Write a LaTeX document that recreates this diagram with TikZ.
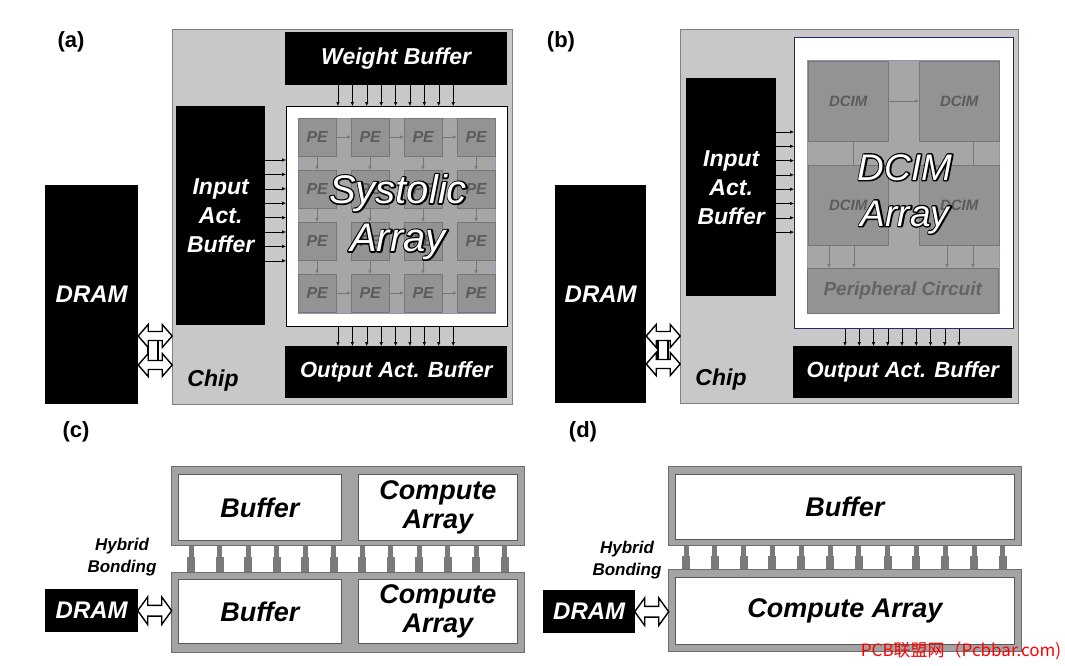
\documentclass[tikz,border=0pt]{standalone}
\usepackage{fontspec}
\setmainfont{Liberation Sans}
\newfontfamily\cjkfont{Noto Sans CJK SC}
\usetikzlibrary{positioning,calc,arrows.meta}

\definecolor{chipgray}{HTML}{C8C8C8}
\definecolor{chipedge}{HTML}{808080}
\definecolor{gridgray}{HTML}{A6A6A6}
\definecolor{pegray}{HTML}{939393}
\definecolor{pedge}{HTML}{777777}
\definecolor{petext}{HTML}{5C5C5C}
\definecolor{navy}{HTML}{1F2C66}
\definecolor{diegray}{HTML}{A3A3A3}
\definecolor{dieedge}{HTML}{6E6E6E}
\definecolor{pillarc}{HTML}{7A7A7A}

% outline pass for the big array titles
\newcommand{\strokeon}{\special{pdf:literal direct 1 Tr 2.8 w 1 j 0 0 0 RG}}

\tikzset{
  buf/.style={fill=black, text=white, inner sep=0pt, align=center, anchor=north west,
    font=\bfseries\itshape\fontsize{22}{29}\selectfont},
  chip/.style={draw=chipedge, fill=chipgray, line width=1pt, anchor=north west, inner sep=0pt},
  pe/.style={draw=pedge, fill=pegray, text=petext, anchor=north west, inner sep=0pt,
    font=\bfseries\itshape\fontsize{16}{16}\selectfont},
  sig/.style={-{Latex[length=4pt,width=3.5pt]}, line width=0.5pt},
  flow/.style={-{Latex[length=4pt,width=3.5pt]}, line width=0.7pt, draw=pedge},
  hollowlink/.pic={
    \draw[fill=white, line width=1.4pt, line join=miter]
      (-17,0) -- (-7,-11.5) -- (-7,-4.5) -- (7,-4.5) -- (7,-11.5) -- (17,0)
      -- (7,11.5) -- (7,4.5) -- (-7,4.5) -- (-7,11.5) -- cycle;
  },
  die/.style={draw=dieedge, fill=diegray, line width=1pt, anchor=north west, inner sep=0pt},
  slot/.style={draw=dieedge!80!black, fill=white, line width=0.8pt, anchor=north west, inner sep=0pt,
    align=center, font=\bfseries\itshape\fontsize{27}{29}\selectfont},
  big/.style={text=white, align=center, font=\itshape\fontsize{37}{46}\selectfont},
  bigline/.style={big, text=black},
  tag/.style={font=\bfseries\fontsize{22}{22}\selectfont},
  note/.style={font=\bfseries\itshape\fontsize{23}{23}\selectfont}
}

\begin{document}
\begin{tikzpicture}[x=1pt, y=-1pt]
  \useasboundingbox (0,0) rectangle (1065,665);

  %%%%%%%%%% (a) systolic array chip
  \node[tag] (la) at (71,42) {(a)};
  \node[chip, minimum width=340pt, minimum height=375pt] (chipA) at (172,29) {};
  \node[buf, minimum width=222pt, minimum height=53pt,
    font=\bfseries\itshape\fontsize{23}{23}\selectfont] (wbufA) at (285,32) {Weight Buffer};
  \node[draw=black, fill=white, line width=1.3pt, anchor=north west,
    minimum width=221pt, minimum height=220pt, inner sep=0pt] (arrA) at (286,106) {};
  \node[draw=navy!50, fill=gridgray, line width=0.6pt, anchor=north west,
    minimum width=197pt, minimum height=195pt, inner sep=0pt] (gridA) at (298,118) {};

  %PE grid
  \foreach \row in {0,...,3}
    \foreach \col in {0,...,3}
      \node[pe, minimum size=38pt] (pe-\row-\col) at (298+53*\col, 118+52*\row) {PE};
  \foreach \row in {0,3}
    \foreach \col in {0,1,2}
      \draw[flow] ($(gridA.north west)+(39+53*\col, 19+52*\row)$) -- ++(14,0);
  \foreach \col in {0,...,3}
    \foreach \row in {0,1,2}
      \draw[flow] ($(gridA.north west)+(19+53*\col, 39+52*\row)$) -- ++(0,13);

  \node[bigline, font=\itshape\fontsize{40}{48}\selectfont] (sysAo) at (398,217)
    {\strokeon Systolic\\Array};
  \node[big, font=\itshape\fontsize{40}{48}\selectfont] (sysA) at (398,217) {Systolic\\Array};

  \node[buf, minimum width=89pt, minimum height=219pt,
    font=\bfseries\itshape\fontsize{23}{29}\selectfont] (ibufA) at (176,106) {Input\\Act.\\Buffer};
  \node[buf, minimum width=222pt, minimum height=52pt] (obufA) at (285,346) {Output Act. Buffer};
  \node[buf, minimum width=93pt, minimum height=219pt,
    font=\bfseries\itshape\fontsize{24}{24}\selectfont] (dramA) at (45,185) {DRAM};
  \node[note] (chipAl) at (213,381) {Chip};

  \foreach \k [evaluate=\k as \y using 160+14.4*\k] in {0,...,7}
    \draw[sig] (ibufA.east |- 0,\y) -- (arrA.west |- 0,\y);
  \foreach \k [evaluate=\k as \x using 338+14.4*\k] in {0,...,8} {
    \draw[sig] (wbufA.south -| \x,0) -- (arrA.north -| \x,0);
    \draw[sig] (arrA.south -| \x,0) -- (obufA.north -| \x,0);
  }

  %DRAM <-> chip
  \draw[fill=white, line width=1.4pt] (148,336) rectangle (158,365);
  \pic (linkA1) at ($(dramA.east |- 0,336)!0.5!(chipA.west |- 0,336)$) {hollowlink};
  \pic (linkA2) at ($(dramA.east |- 0,365)!0.5!(chipA.west |- 0,365)$) {hollowlink};

  %%%%%%%%%% (b) DCIM chip
  \node[tag] (lb) at (561,42) {(b)};
  \node[chip, minimum width=338pt, minimum height=374pt] (chipB) at (680,29) {};
  \node[draw=navy, fill=white, line width=1.1pt, anchor=north west,
    minimum width=219pt, minimum height=291pt, inner sep=0pt] (arrB) at (794,37) {};
  \node[draw=navy!50, fill=gridgray, line width=0.6pt, anchor=north west,
    minimum width=192pt, minimum height=253pt, inner sep=0pt] (gridB) at (807,60) {};

  \node[pe, minimum size=80pt, font=\bfseries\itshape\fontsize{15}{15}\selectfont] (dcim1) at (808,61) {DCIM};
  \node[pe, minimum size=80pt, font=\bfseries\itshape\fontsize{15}{15}\selectfont] (dcim2) at (919,61) {DCIM};
  \node[pe, minimum size=80pt, font=\bfseries\itshape\fontsize{15}{15}\selectfont] (dcim3) at (808,165) {DCIM};
  \node[pe, minimum size=80pt, font=\bfseries\itshape\fontsize{15}{15}\selectfont] (dcim4) at (919,165) {DCIM};
  \node[pe, minimum width=191pt, minimum height=45pt, text=petext!85!pegray,
    font=\bfseries\itshape\fontsize{19}{19}\selectfont] (periB) at (807,268) {Peripheral Circuit};

  \draw[pedge, line width=0.7pt] (dcim1.south -| 853,0) -- (dcim3.north -| 853,0);
  \draw[pedge, line width=0.7pt] (dcim2.south -| 973,0) -- (dcim4.north -| 973,0);
  \draw[flow] (dcim1.east) -- (dcim2.west);
  \foreach \x in {829,854}
    \draw[flow] (dcim3.south -| \x,0) -- (periB.north -| \x,0);
  \foreach \x in {947,973}
    \draw[flow] (dcim4.south -| \x,0) -- (periB.north -| \x,0);

  \node[bigline] (dcimBo) at (905,194) {\strokeon DCIM\\Array};
  \node[big] (dcimB) at (905,194) {DCIM\\Array};

  \node[buf, minimum width=90pt, minimum height=218pt,
    font=\bfseries\itshape\fontsize{23}{29}\selectfont] (ibufB) at (686,78) {Input\\Act.\\Buffer};
  \node[buf, minimum width=219pt, minimum height=52pt] (obufB) at (793,346) {Output Act. Buffer};
  \node[buf, minimum width=91pt, minimum height=218pt,
    font=\bfseries\itshape\fontsize{24}{24}\selectfont] (dramB) at (555,185) {DRAM};
  \node[note] (chipBl) at (721,380) {Chip};

  \foreach \k [evaluate=\k as \y using 132+14.3*\k] in {0,...,7}
    \draw[sig] (ibufB.east |- 0,\y) -- (arrB.west |- 0,\y);
  \foreach \k [evaluate=\k as \x using 845+14.25*\k] in {0,...,8}
    \draw[sig] (arrB.south -| \x,0) -- (obufB.north -| \x,0);

  \draw[fill=white, line width=1.4pt] (658,336) rectangle (668,364);
  \pic (linkB1) at ($(dramB.east |- 0,336)!0.5!(chipB.west |- 0,336)$) {hollowlink};
  \pic (linkB2) at ($(dramB.east |- 0,364)!0.5!(chipB.west |- 0,364)$) {hollowlink};

  %%%%%%%%%% (c) stacked dies
  \node[tag] (lc) at (76,432) {(c)};
  \node[die, minimum width=353pt, minimum height=79pt] (topC) at (171,466) {};
  \node[slot, minimum width=163pt, minimum height=66pt] (bufC1) at (178,474) {Buffer};
  \node[slot, minimum width=159pt, minimum height=66pt] (compC1) at (358,474) {Compute\\Array};
  \node[die, minimum width=353pt, minimum height=80pt] (botC) at (171,572) {};
  \node[slot, minimum width=163pt, minimum height=64pt] (bufC2) at (178,579) {Buffer};
  \node[slot, minimum width=159pt, minimum height=64pt] (compC2) at (358,579) {Compute\\Array};

  \foreach \k [evaluate=\k as \x using 191+28.5*\k] in {0,...,11} {
    \fill[pillarc] ($(topC.south -| \x,0)+(-2.5,0)$) rectangle ($(topC.south -| \x,0)+(2.5,12)$);
    \fill[pillarc] ($(botC.north -| \x,0)+(-4,0)$) rectangle ($(botC.north -| \x,0)+(4,-15)$);
  }

  \node[align=center, font=\bfseries\itshape\fontsize{17}{22}\selectfont] (hbC) at (122,557) {Hybrid\\Bonding};
  \node[buf, minimum width=93pt, minimum height=43pt,
    font=\bfseries\itshape\fontsize{24}{24}\selectfont] (dramC) at (45,589) {DRAM};
  \pic[yscale=1.2] (linkC) at ($(dramC.east)!0.5!(botC.west |- dramC.east)$) {hollowlink};

  %%%%%%%%%% (d) stacked dies
  \node[tag] (ld) at (583,432) {(d)};
  \node[die, minimum width=353pt, minimum height=79pt] (topD) at (668,466) {};
  \node[slot, minimum width=339pt, minimum height=65pt] (bufD) at (675,474) {Buffer};
  \node[die, minimum width=353pt, minimum height=82pt] (botD) at (668,569) {};
  \node[slot, minimum width=339pt, minimum height=67pt] (compD) at (675,577) {Compute Array};

  \foreach \k [evaluate=\k as \x using 686+28.8*\k] in {0,...,11} {
    \fill[pillarc] ($(topD.south -| \x,0)+(-2.5,0)$) rectangle ($(topD.south -| \x,0)+(2.5,12)$);
    \fill[pillarc] ($(botD.north -| \x,0)+(-4,0)$) rectangle ($(botD.north -| \x,0)+(4,-13)$);
  }

  \node[align=center, font=\bfseries\itshape\fontsize{17}{22}\selectfont] (hbD) at (627,560) {Hybrid\\Bonding};
  \node[buf, minimum width=92pt, minimum height=43pt,
    font=\bfseries\itshape\fontsize{24}{24}\selectfont] (dramD) at (543,590) {DRAM};
  \pic[yscale=1.2] (linkD) at ($(dramD.east)!0.5!(botD.west |- dramD.east)$) {hollowlink};

  %watermark
  \node[text=red, font=\cjkfont\fontsize{17}{17}\selectfont] (wm) at (961,651) {PCB联盟网（Pcbbar.com)};
\end{tikzpicture}
\end{document}
